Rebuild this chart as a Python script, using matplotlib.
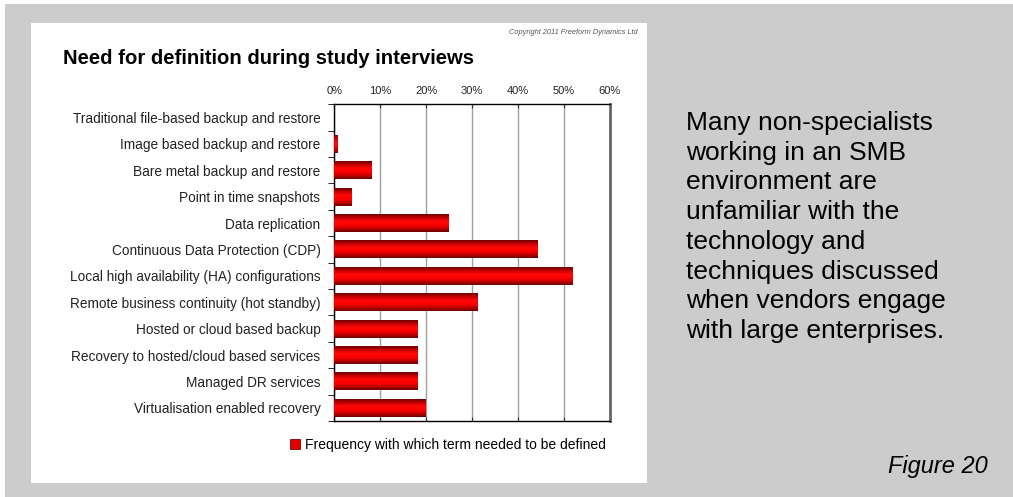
import numpy as np
import matplotlib
matplotlib.use('Agg')
import matplotlib.pyplot as plt
from matplotlib.colors import LinearSegmentedColormap
from matplotlib.patches import Rectangle, Patch

plt.rcParams['font.family'] = ['Liberation Sans', 'DejaVu Sans']

terms = [
    'Traditional file-based backup and restore',
    'Image based backup and restore',
    'Bare metal backup and restore',
    'Point in time snapshots',
    'Data replication',
    'Continuous Data Protection (CDP)',
    'Local high availability (HA) configurations',
    'Remote business continuity (hot standby)',
    'Hosted or cloud based backup',
    'Recovery to hosted/cloud based services',
    'Managed DR services',
    'Virtualisation enabled recovery',
]
freq = [0.0, 0.75, 8.2, 3.8, 25.0, 44.3, 52.0, 31.2, 18.2, 18.2, 18.2, 20.0]
x_ticks = [0, 10, 20, 30, 40, 50, 60]

side_text = ('Many non-specialists\nworking in an SMB\nenvironment are\nunfamiliar with the\n'
             'technology and\ntechniques discussed\nwhen vendors engage\nwith large enterprises.')

W, H = 1013, 497
fig = plt.figure(figsize=(W / 100, H / 100), dpi=100, facecolor='#cccccc')

# white page edge and white chart panel
for x0, y0, w, h in [(0, H - 4, W, 4), (0, 0, 5, H), (31, H - 483, 616, 460)]:
    fig.patches.append(Rectangle((x0 / W, y0 / H), w / W, h / H, transform=fig.transFigure,
                                 facecolor='white', edgecolor='none', zorder=-5))

ax = fig.add_axes([334.3 / W, 1 - 421 / H, 275.4 / W, 316.7 / H])
ax.set_facecolor('none')
ax.set_zorder(2)

y = np.arange(len(terms))
bars = ax.barh(y, freq, height=0.68, facecolor='none', edgecolor='none', zorder=3)

red_cmap = LinearSegmentedColormap.from_list(
    'cyl', ['#6e0000', '#c40000', '#ff0a0a', '#ff0000', '#c40000', '#6e0000'])
grad = np.linspace(0, 1, 64).reshape(-1, 1)
for b in bars:
    x0, y0 = b.get_xy()
    w, h = b.get_width(), b.get_height()
    if w <= 0:
        continue
    ax.imshow(grad, extent=(x0, x0 + w, y0 + h, y0), cmap=red_cmap, aspect='auto',
              interpolation='bilinear', zorder=3)

ax.set_xlim(0, 60)
ax.set_ylim(len(terms) - 0.5, -0.5)

ax.set_xticks(x_ticks)
ax.set_xticklabels([f'{t}%' for t in x_ticks])
ax.xaxis.tick_top()
ax.tick_params(axis='x', which='major', top=True, bottom=True, direction='in', length=3,
               labelsize=8, pad=6, color='#333333', labelcolor='#222222')
ax.grid(axis='x', color='#a0a0a0', linewidth=1, zorder=1)

ax.set_yticks(y)
ax.set_yticklabels(terms)
ax.set_yticks(np.arange(len(terms) + 1) - 0.5, minor=True)
ax.tick_params(axis='y', which='major', length=0, labelsize=9.8, pad=10, labelcolor='#222222')
ax.tick_params(axis='y', which='minor', length=4, direction='out', color='black')

for side in ('left', 'top', 'bottom'):
    ax.spines[side].set_color('black')
    ax.spines[side].set_linewidth(1)
ax.spines['right'].set_color('#666666')
ax.spines['right'].set_linewidth(2)

fig.text(63 / W, 1 - 58 / H, 'Need for definition during study interviews',
         fontsize=14.6, fontweight='bold', ha='left', va='center', color='black')
fig.text(638 / W, 1 - 32 / H, 'Copyright 2011 Freeform Dynamics Ltd',
         fontsize=5.3, style='italic', ha='right', va='center', color='#555555')

fig.legend(handles=[Patch(facecolor='#e00000', edgecolor='#800000', linewidth=0.6)],
           labels=['Frequency with which term needed to be defined'],
           loc='center left', bbox_to_anchor=(290 / W, 1 - 445 / H), frameon=False,
           fontsize=10, handlelength=0.7, handleheight=0.7, handletextpad=0.35,
           borderpad=0, borderaxespad=0)

fig.text(686 / W, 1 - 111 / H, side_text, fontsize=19, ha='left', va='top',
         linespacing=1.3, color='black')
fig.text(988 / W, 1 - 467 / H, 'Figure 20', fontsize=17, style='italic',
         ha='right', va='center', color='black')

fig.savefig('out.png', dpi=100, facecolor=fig.get_facecolor())
